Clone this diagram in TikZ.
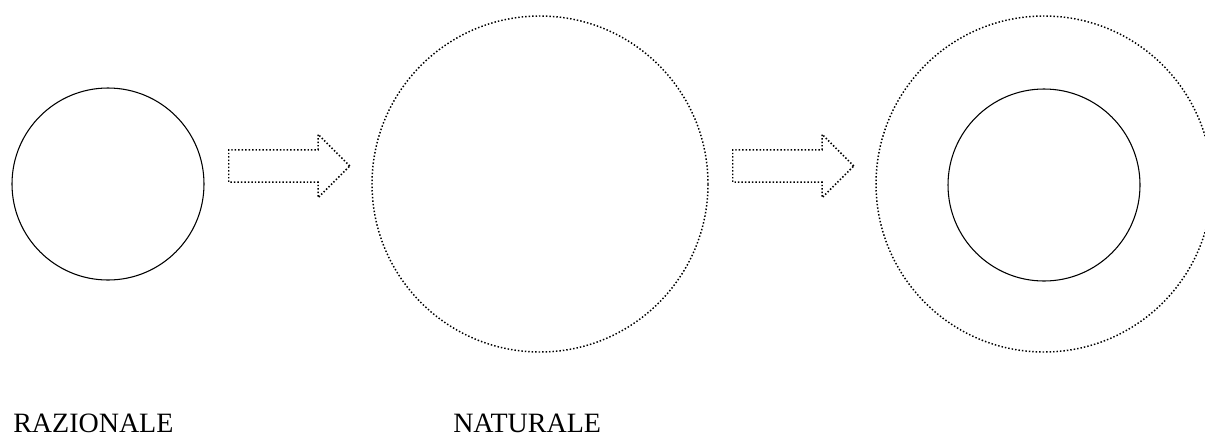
\documentclass[tikz,border=0pt]{standalone}
\usepackage{fontspec}
\setmainfont{Liberation Serif}
\usetikzlibrary{shapes.arrows}

\begin{document}
\begin{tikzpicture}[
  x=0.75pt, y=-0.75pt,
  solidring/.style={circle, draw, line width=0.8pt, inner sep=0pt},
  dotring/.style={circle, draw, line width=1.1pt, dash pattern=on 1.1pt off 1.5pt, inner sep=0pt},
  flowarrow/.style={single arrow, draw, line width=1.1pt, dash pattern=on 1.1pt off 1.5pt,
                    anchor=west, inner xsep=0pt, inner ysep=11.6pt, minimum width=0pt,
                    minimum height=90.75pt, single arrow head extend=11.6pt},
  lbltext/.style={anchor=base west, inner sep=0pt, font=\fontsize{21pt}{25pt}\selectfont}
]
  \useasboundingbox (0,0) rectangle (1205,437);

  % circles
  \node[solidring, minimum size=144pt] (raz) at (108,184) {};
  \node[dotring,   minimum size=252pt] (nat) at (540,184) {};
  \begin{scope}
    \clip (0,0) rectangle (1205,437);
    \node[dotring, minimum size=252pt] (outer) at (1044,184) {};
  \end{scope}
  \node[solidring, minimum size=144pt] (inner) at (1044,185) {};

  % arrows
  \node[flowarrow] (arr1) at (228,166) {};
  \node[flowarrow] (arr2) at (732,166) {};

  % labels
  \node[lbltext] (lraz) at (13,432)  {RAZIONALE};
  \node[lbltext] (lnat) at (453,432) {NATURALE};
\end{tikzpicture}
\end{document}
